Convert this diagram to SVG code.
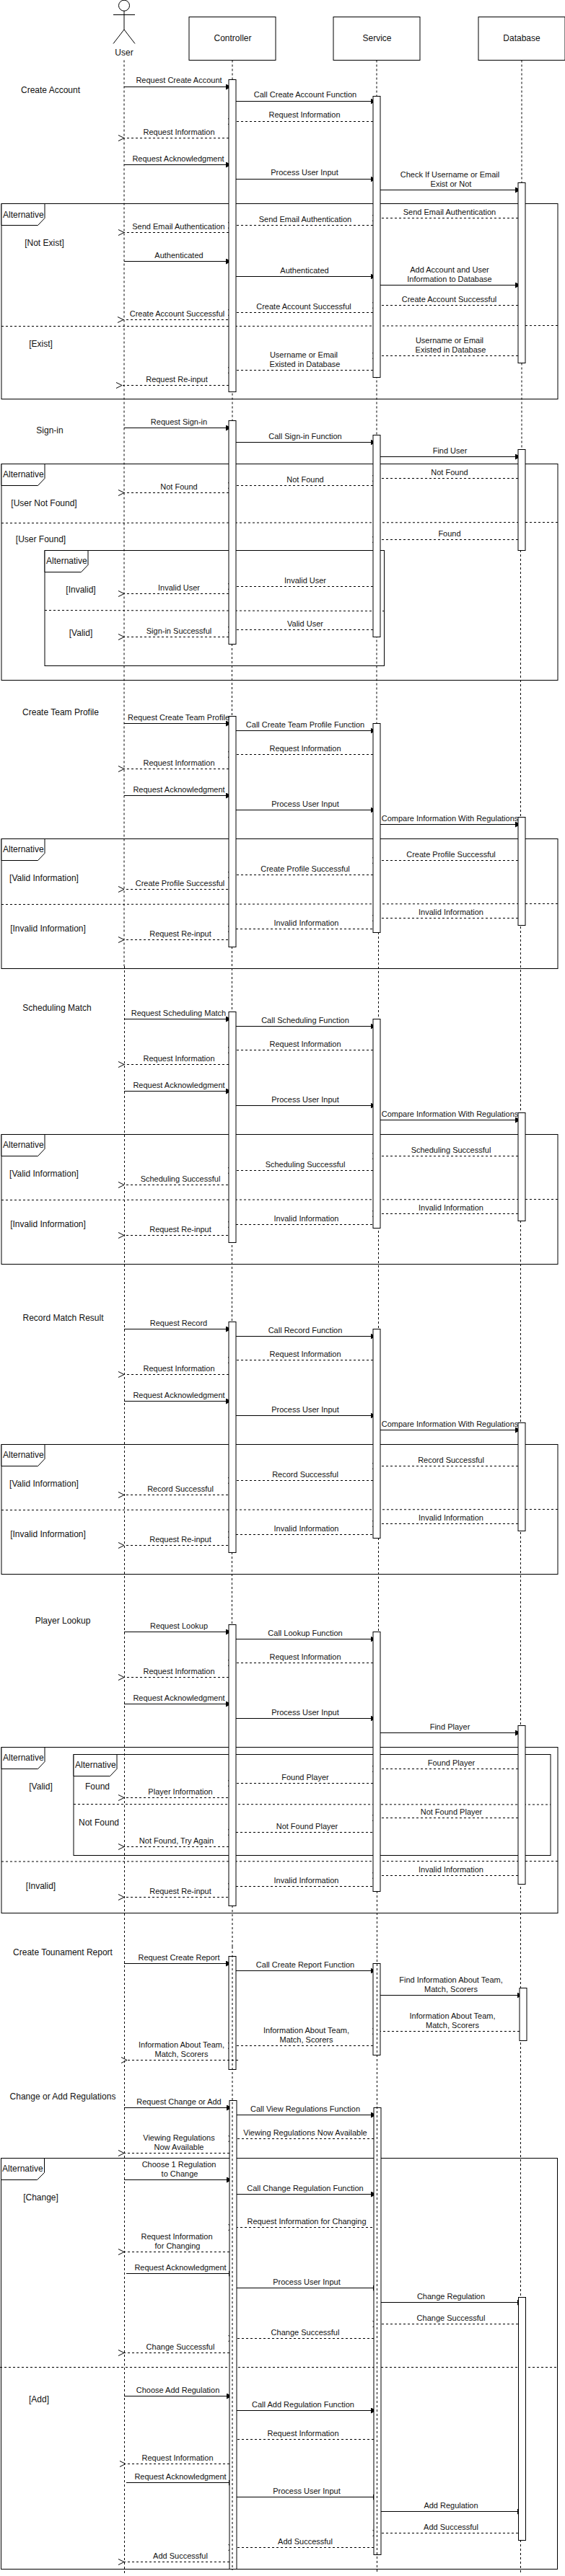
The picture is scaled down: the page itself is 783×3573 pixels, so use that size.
<svg xmlns="http://www.w3.org/2000/svg" width="783" height="3573" viewBox="0 0 783 3573">
<style>
text{font-family:"Liberation Sans",Arial,Helvetica,sans-serif;font-size:11px;fill:#111;text-anchor:middle}
text.b{font-size:12px}
text.l{font-size:12px;text-anchor:start}
.box{fill:#fff;stroke:#000;stroke-width:1}
.act{fill:#fff;stroke:#000;stroke-width:1}
.frame{fill:none;stroke:#000;stroke-width:1}
.tab{fill:#fff;stroke:#000;stroke-width:1}
.life,.div{fill:none;stroke:#000;stroke-width:1;stroke-dasharray:3 3}
.m{fill:none;stroke:#000;stroke-width:1;marker-end:url(#block)}
.r{fill:none;stroke:#000;stroke-width:1;stroke-dasharray:3 3;marker-end:url(#open)}
.r0{fill:none;stroke:#000;stroke-width:1;stroke-dasharray:3 3}
.actor{fill:none;stroke:#000;stroke-width:1}
</style>
<defs>
<marker id="block" markerUnits="userSpaceOnUse" markerWidth="10" markerHeight="10" refX="8" refY="4" orient="auto"><path d="M0 0L8 4L0 8Z" fill="#000"/></marker>
<marker id="open" markerUnits="userSpaceOnUse" markerWidth="12" markerHeight="12" refX="1" refY="5" orient="auto"><path d="M9 1L1 5L9 9" fill="none" stroke="#000"/></marker>
</defs>

<g id="lifelines-under">
<path class="life" d="M172 83.5V1340M172.5 1340V3571"/>
<path class="life" d="M322 83.5V893M321.5 893V2643M322 2643V2700"/>
<path class="life" d="M522 83.5V1293M524.5 1293V2623M522.5 2623V2700"/>
<path class="life" d="M723 83.5V763M721.5 763V3568"/>
</g>

<g id="frames">
<g id="frame-create-account"><rect class="frame" x="2" y="282.5" width="771" height="271"/><path class="tab" d="M2 282.5H62V302.5L52.5 312.5H2Z"/><path class="div" d="M2 452.5H302M302 452.5L773 451.5"/></g>
<g id="frame-sign-in"><rect class="frame" x="2" y="643.5" width="771" height="300"/><path class="tab" d="M2 643.5H62V663.5L52.5 673.5H2Z"/><path class="div" d="M2 725.5L773 724.5"/></g>
<g id="frame-sign-in-inner"><rect class="frame" x="62" y="763.5" width="470.5" height="160"/><path class="tab" d="M62 763.5H122V783.5L112.5 793.5H62Z"/><path class="div" d="M62 846.5L532.5 847.5"/></g>
<g id="frame-team"><rect class="frame" x="2" y="1163.5" width="771" height="180"/><path class="tab" d="M2 1163.5H62V1183.5L52.5 1193.5H2Z"/><path class="div" d="M2 1254.5L773 1253.5"/></g>
<g id="frame-scheduling"><rect class="frame" x="2" y="1573.5" width="771" height="180"/><path class="tab" d="M2 1573.5H62V1593.5L52.5 1603.5H2Z"/><path class="div" d="M2 1664.5L773 1663.5"/></g>
<g id="frame-record"><rect class="frame" x="2" y="2003.5" width="771" height="180"/><path class="tab" d="M2 2003.5H62V2023.5L52.5 2033.5H2Z"/><path class="div" d="M2 2094.5L773 2093.5"/></g>
<g id="frame-lookup"><rect class="frame" x="2" y="2423.5" width="771" height="230"/><path class="tab" d="M2 2423.5H62V2443.5L52.5 2453.5H2Z"/><path class="div" d="M2 2582L773 2581.5"/></g>
<g id="frame-lookup-inner"><rect class="frame" x="102" y="2433.5" width="661" height="140"/><path class="tab" d="M102 2433.5H162V2453.5L152.5 2463.5H102Z"/><path class="div" d="M102 2502.5L763 2503"/></g>
<g id="frame-regulations"><rect class="frame" x="1.5" y="2993.5" width="771" height="570"/><path class="tab" d="M1.5 2993.5H61.5V3013.5L51.5 3023.5H1.5Z"/><path class="div" d="M0 3283.5H772.5"/></g>
</g>

<g id="connectors">
<path class="m" d="M172 120.5H321"/><path class="m" d="M327 140.5H521.5"/><path class="r" d="M517 168.5H324"/><path class="r" d="M317 191.5H172"/><path class="m" d="M172 228.5H321"/><path class="m" d="M327 248.5H521.5"/><path class="m" d="M527 263.5H722"/>
<path class="r" d="M718 302.5H524"/><path class="r" d="M517 312.5H324"/><path class="r" d="M317 322.5H172"/><path class="m" d="M172 362.5H321"/><path class="m" d="M327 383.5H521.5"/><path class="m" d="M527 395.5H722"/><path class="r" d="M718 423.5H524"/><path class="r" d="M517 433.5H324"/><path class="r" d="M316 443.5H171"/><path class="r" d="M718 493.5H524"/><path class="r" d="M517 513.5H324"/><path class="r" d="M317 534.5H169"/>

<path class="m" d="M172 593.5H321"/><path class="m" d="M327 613.5H521.5"/><path class="m" d="M527 633.5H722"/><path class="r" d="M718 663.5H524"/><path class="r" d="M517 673.5H324"/><path class="r" d="M317 683.5H172"/><path class="r" d="M718 748.5H524"/><path class="r" d="M517 813.5H324"/><path class="r" d="M317 823.5H172"/><path class="r" d="M517 873.5H324"/><path class="r" d="M317 883.5H172"/>

<path class="m" d="M172 1003.5H321"/><path class="m" d="M327 1013.5H521.5"/><path class="r" d="M517 1046.5H324"/><path class="r" d="M317 1066.5H172"/><path class="m" d="M172 1103.5H321"/><path class="m" d="M327 1123.5H521.5"/><path class="m" d="M527 1143.5H722"/><path class="r" d="M718 1193.5H524"/><path class="r" d="M517 1213.5H324"/><path class="r" d="M316 1233.5H172"/><path class="r" d="M718 1273.5H524"/><path class="r" d="M516 1288.5H324"/><path class="r" d="M316 1303.5H172"/>

<path class="m" d="M172 1413.5H321"/><path class="m" d="M327 1423.5H521.5"/><path class="r" d="M517 1456.5H324"/><path class="r" d="M317 1476.5H172"/><path class="m" d="M172 1513.5H321"/><path class="m" d="M327 1533.5H521.5"/><path class="m" d="M527 1553.5H722"/><path class="r" d="M718 1603.5H524"/><path class="r" d="M517 1623.5H324"/><path class="r" d="M316 1643.5H172"/><path class="r" d="M718 1683.5H524"/><path class="r" d="M516 1698.5H324"/><path class="r" d="M316 1713.5H172"/>

<path class="m" d="M172 1843.5H321"/><path class="m" d="M327 1853.5H521.5"/><path class="r" d="M517 1886.5H324"/><path class="r" d="M317 1906.5H172"/><path class="m" d="M172 1943.5H321"/><path class="m" d="M327 1963.5H521.5"/><path class="m" d="M527 1983.5H722"/><path class="r" d="M718 2033.5H524"/><path class="r" d="M517 2053.5H324"/><path class="r" d="M316 2073.5H172"/><path class="r" d="M718 2113.5H524"/><path class="r" d="M516 2128.5H324"/><path class="r" d="M316 2143.5H172"/>

<path class="m" d="M172 2263.5H321"/><path class="m" d="M327 2273.5H521.5"/><path class="r" d="M517 2306.5H324"/><path class="r" d="M317 2326.5H172"/><path class="m" d="M172 2363.5H321"/><path class="m" d="M327 2383.5H521.5"/><path class="m" d="M527 2403.5H722"/><path class="r" d="M718 2453.5H524"/><path class="r" d="M517 2473.5H324"/><path class="r" d="M316 2493.5H172"/><path class="r" d="M718 2521.5H524"/><path class="r" d="M516 2541.5H324"/><path class="r" d="M317 2561.5H172"/><path class="r" d="M718 2601.5H524"/><path class="r" d="M516 2616.5H324"/><path class="r" d="M316 2631.5H172"/>

<path class="m" d="M172 2723.5H321"/><path class="m" d="M327 2733.5H521.5"/><path class="m" d="M527 2767.5H724.5"/><path class="r" d="M720 2817.5H524"/><path class="r" d="M517 2837.5H324"/>

<path class="m" d="M172 2923.5H322"/><path class="m" d="M328 2933.5H522"/><path class="r" d="M518 2966.5H324.5"/><path class="r" d="M318 2986.5H172"/><path class="m" d="M172 3023.5H322"/><path class="m" d="M328 3043.5H522"/><path class="r" d="M516 3089.5H324.5"/><path class="r" d="M318 3123.5H172"/><path class="m" d="M175 3153.5H325"/><path class="m" d="M328 3173.5H525"/><path class="m" d="M528 3193.5H725"/><path class="r" d="M718 3223.5H524.5"/><path class="r" d="M518 3243.5H324.5"/><path class="r" d="M318 3263.5H172"/>
<path class="m" d="M172 3323.5H322"/><path class="m" d="M328 3343.5H522"/><path class="r0" d="M518 3383.5H328"/><path class="r" d="M318 3417.5H174"/><path class="m" d="M175 3443.5H325"/><path class="m" d="M328 3463.5H525"/><path class="m" d="M528 3483.5H725"/><path class="r" d="M718 3513.5H524.5"/><path class="r" d="M518 3533.5H324.5"/><path class="r" d="M318 3553.5H172"/>
</g>

<g id="activations">
<g id="controller-activations">
<rect class="act" x="317" y="110.5" width="10" height="433"/>
<rect class="act" x="317" y="583.5" width="10" height="310"/>
<rect class="act" x="317" y="993.5" width="10" height="320"/>
<rect class="act" x="317" y="1403.5" width="10" height="320"/>
<rect class="act" x="317" y="1833.5" width="10" height="320"/>
<rect class="act" x="317" y="2253.5" width="10" height="390"/>
<rect class="act" x="317" y="2713.5" width="10" height="157"/>
<rect class="act" x="318" y="2913.5" width="10" height="650"/>
</g>
<g id="service-activations">
<rect class="act" x="517" y="133.5" width="10" height="390"/>
<rect class="act" x="517" y="603.5" width="10" height="280"/>
<rect class="act" x="517" y="1003.5" width="10" height="290"/>
<rect class="act" x="517" y="1413.5" width="10" height="290"/>
<rect class="act" x="517" y="1843.5" width="10" height="290"/>
<rect class="act" x="517" y="2263.5" width="10" height="360"/>
<rect class="act" x="517" y="2723.5" width="10" height="127"/>
<rect class="act" x="518" y="2923.5" width="10" height="620"/>
</g>
<g id="database-activations">
<rect class="act" x="718" y="253.5" width="10" height="250"/>
<rect class="act" x="718" y="623.5" width="10" height="140"/>
<rect class="act" x="718" y="1133.5" width="10" height="150"/>
<rect class="act" x="718" y="1543.5" width="10" height="150"/>
<rect class="act" x="718" y="1973.5" width="10" height="150"/>
<rect class="act" x="718" y="2393.5" width="10" height="220"/>
<rect class="act" x="720" y="2757.5" width="10" height="73"/>
<rect class="act" x="718.5" y="3186.5" width="10" height="337"/>
</g>
</g>

<g id="lifelines-over">
<path class="life" d="M322 2700V3565"/>
<path class="life" d="M522.5 2700V3567"/>
<path class="r" d="M330 2857.5H176"/>
</g>

<g id="node-user"><circle class="actor" cx="172" cy="7.7" r="7.5"/><path class="actor" d="M172 15V41M157 20.5H187M157 60.5L172 41L187 60.5"/><text class="b" x="172" y="77">User</text></g>
<g id="node-controller"><rect class="box" x="262" y="23.5" width="120" height="60"/><text class="b" x="322.5" y="57">Controller</text></g>
<g id="node-service"><rect class="box" x="462" y="23.5" width="120" height="60"/><text class="b" x="522.5" y="57">Service</text></g>
<g id="node-database"><rect class="box" x="663" y="23.5" width="120" height="60"/><text class="b" x="723" y="57">Database</text></g>

<g id="labels">
<text class="b" x="70" y="129">Create Account</text>
<text x="248" y="115.3">Request Create Account</text>
<text x="423" y="135.3">Call Create Account Function</text>
<text x="422" y="163.3">Request Information</text>
<text x="248" y="186.5">Request Information</text>
<text x="247" y="223.5">Request Acknowledgment</text>
<text x="422" y="243.3">Process User Input</text>
<text x="623.5" y="245.5">Check If Username or Email</text>
<text x="625" y="258.5">Exist or Not</text>
<text class="l" x="4" y="301.5">Alternative</text>
<text x="623" y="297.5">Send Email Authentication</text>
<text x="423" y="307.5">Send Email Authentication</text>
<text x="247.5" y="317.5">Send Email Authentication</text>
<text class="b" x="61.5" y="341">[Not Exist]</text>
<text x="248" y="357.5">Authenticated</text>
<text x="422" y="378.5">Authenticated</text>
<text x="623" y="377.5">Add Account and User</text>
<text x="623" y="390.5">Information to Database</text>
<text x="622.5" y="418.5">Create Account Successful</text>
<text x="421" y="428.5">Create Account Successful</text>
<text x="245.5" y="438.5">Create Account Successful</text>
<text class="b" x="56.5" y="481">[Exist]</text>
<text x="623" y="475.5">Username or Email</text>
<text x="624.5" y="488.5">Existed in Database</text>
<text x="421" y="495.5">Username or Email</text>
<text x="422.5" y="508.5">Existed in Database</text>
<text x="245" y="529.5">Request Re-input</text>

<text class="b" x="69" y="601">Sign-in</text>
<text x="248" y="588.5">Request Sign-in</text>
<text x="423" y="608.5">Call Sign-in Function</text>
<text x="623.5" y="628.5">Find User</text>
<text class="l" x="4" y="662">Alternative</text>
<text x="623" y="658.5">Not Found</text>
<text x="423" y="668.5">Not Found</text>
<text x="248" y="678.5">Not Found</text>
<text class="b" x="61" y="702">[User Not Found]</text>
<text class="b" x="56.5" y="752">[User Found]</text>
<text x="623" y="743.5">Found</text>
<text class="l" x="64" y="782">Alternative</text>
<text class="b" x="112" y="822">[Invalid]</text>
<text x="423" y="808.5">Invalid User</text>
<text x="248" y="818.5">Invalid User</text>
<text class="b" x="112" y="882">[Valid]</text>
<text x="423" y="868.5">Valid User</text>
<text x="248" y="878.5">Sign-in Successful</text>

<text class="b" x="84" y="992">Create Team Profile</text>
<text x="247.5" y="998.5">Request Create Team Profile</text>
<text x="423" y="1008.5">Call Create Team Profile Function</text>
<text x="423" y="1041.5">Request Information</text>
<text x="248" y="1061.5">Request Information</text>
<text x="248" y="1098.5">Request Acknowledgment</text>
<text x="423" y="1118.5">Process User Input</text>
<text x="623.5" y="1138.5">Compare Information With Regulations</text>
<text class="l" x="4" y="1182">Alternative</text>
<text x="625" y="1188.5">Create Profile Successful</text>
<text x="423" y="1208.5">Create Profile Successful</text>
<text x="249.5" y="1228.5">Create Profile Successful</text>
<text class="b" x="61" y="1222">[Valid Information]</text>
<text x="625" y="1268.5">Invalid Information</text>
<text x="424.5" y="1283.5">Invalid Information</text>
<text x="250" y="1298.5">Request Re-input</text>
<text class="b" x="66.5" y="1292">[Invalid Information]</text>

<text class="b" x="79" y="1402">Scheduling Match</text>
<text x="247.5" y="1408.5">Request Scheduling Match</text>
<text x="423" y="1418.5">Call Scheduling Function</text>
<text x="423" y="1451.5">Request Information</text>
<text x="248" y="1471.5">Request Information</text>
<text x="248" y="1508.5">Request Acknowledgment</text>
<text x="423" y="1528.5">Process User Input</text>
<text x="623.5" y="1548.5">Compare Information With Regulations</text>
<text class="l" x="4" y="1592">Alternative</text>
<text x="625" y="1598.5">Scheduling Successful</text>
<text x="423" y="1618.5">Scheduling Successful</text>
<text x="250" y="1638.5">Scheduling Successful</text>
<text class="b" x="61" y="1632">[Valid Information]</text>
<text x="625" y="1678.5">Invalid Information</text>
<text x="424.5" y="1693.5">Invalid Information</text>
<text x="250" y="1708.5">Request Re-input</text>
<text class="b" x="66.5" y="1702">[Invalid Information]</text>

<text class="b" x="87.5" y="1832">Record Match Result</text>
<text x="247.5" y="1838.5">Request Record</text>
<text x="423" y="1848.5">Call Record Function</text>
<text x="423" y="1881.5">Request Information</text>
<text x="248" y="1901.5">Request Information</text>
<text x="248" y="1938.5">Request Acknowledgment</text>
<text x="423" y="1958.5">Process User Input</text>
<text x="623.5" y="1978.5">Compare Information With Regulations</text>
<text class="l" x="4" y="2022">Alternative</text>
<text x="625" y="2028.5">Record Successful</text>
<text x="423" y="2048.5">Record Successful</text>
<text x="250" y="2068.5">Record Successful</text>
<text class="b" x="61" y="2062">[Valid Information]</text>
<text x="625" y="2108.5">Invalid Information</text>
<text x="424.5" y="2123.5">Invalid Information</text>
<text x="250" y="2138.5">Request Re-input</text>
<text class="b" x="66.5" y="2132">[Invalid Information]</text>

<text class="b" x="87" y="2252">Player Lookup</text>
<text x="248" y="2258.5">Request Lookup</text>
<text x="423" y="2268.5">Call Lookup Function</text>
<text x="423" y="2301.5">Request Information</text>
<text x="248" y="2321.5">Request Information</text>
<text x="248" y="2358.5">Request Acknowledgment</text>
<text x="423" y="2378.5">Process User Input</text>
<text x="623.5" y="2398.5">Find Player</text>
<text class="l" x="4" y="2442">Alternative</text>
<text class="l" x="104" y="2452">Alternative</text>
<text class="b" x="56.5" y="2482">[Valid]</text>
<text class="b" x="135" y="2482">Found</text>
<text x="625.5" y="2448.5">Found Player</text>
<text x="423" y="2468.5">Found Player</text>
<text x="250" y="2488.5">Player Information</text>
<text class="b" x="137" y="2532">Not Found</text>
<text x="625.5" y="2516.5">Not Found Player</text>
<text x="425.5" y="2536.5">Not Found Player</text>
<text x="244.5" y="2556.5">Not Found, Try Again</text>
<text x="625" y="2596.5">Invalid Information</text>
<text x="424.5" y="2611.5">Invalid Information</text>
<text x="250" y="2626.5">Request Re-input</text>
<text class="b" x="56.5" y="2620">[Invalid]</text>

<text class="b" x="87" y="2712">Create Tounament Report</text>
<text x="248" y="2718.5">Request Create Report</text>
<text x="423" y="2728.5">Call Create Report Function</text>
<text x="625" y="2749.5">Find Information About Team,</text>
<text x="625" y="2762.5">Match, Scorers</text>
<text x="627" y="2799.5">Information About Team,</text>
<text x="627" y="2812.5">Match, Scorers</text>
<text x="424.5" y="2819.5">Information About Team,</text>
<text x="424.5" y="2832.5">Match, Scorers</text>
<text x="251.5" y="2839.5">Information About Team,</text>
<text x="251.5" y="2852.5">Match, Scorers</text>

<text class="b" x="87" y="2912">Change or Add Regulations</text>
<text x="248" y="2918.5">Request Change or Add</text>
<text x="423" y="2928.5">Call View Regulations Function</text>
<text x="423" y="2961.5">Viewing Regulations Now Available</text>
<text x="248" y="2968.5">Viewing Regulations</text>
<text x="248" y="2981.5">Now Available</text>
<text class="l" x="3" y="3012">Alternative</text>
<text x="248" y="3005.5">Choose 1 Regulation</text>
<text x="249" y="3018.5">to Change</text>
<text x="423" y="3038.5">Call Change Regulation Function</text>
<text x="425" y="3084.5">Request Information for Changing</text>
<text x="245" y="3105.5">Request Information</text>
<text x="246" y="3118.5">for Changing</text>
<text class="b" x="56.5" y="3052">[Change]</text>
<text x="250" y="3148.5">Request Acknowledgment</text>
<text x="425" y="3168.5">Process User Input</text>
<text x="625" y="3188.5">Change Regulation</text>
<text x="625" y="3218.5">Change Successful</text>
<text x="423" y="3238.5">Change Successful</text>
<text x="250" y="3258.5">Change Successful</text>
<text class="b" x="54" y="3332">[Add]</text>
<text x="246.5" y="3318.5">Choose Add Regulation</text>
<text x="420" y="3338.5">Call Add Regulation Function</text>
<text x="420" y="3378.5">Request Information</text>
<text x="246" y="3412.5">Request Information</text>
<text x="250" y="3438.5">Request Acknowledgment</text>
<text x="425" y="3458.5">Process User Input</text>
<text x="625" y="3478.5">Add Regulation</text>
<text x="625" y="3508.5">Add Successful</text>
<text x="423" y="3528.5">Add Successful</text>
<text x="250" y="3548.5">Add Successful</text>
</g>
</svg>
